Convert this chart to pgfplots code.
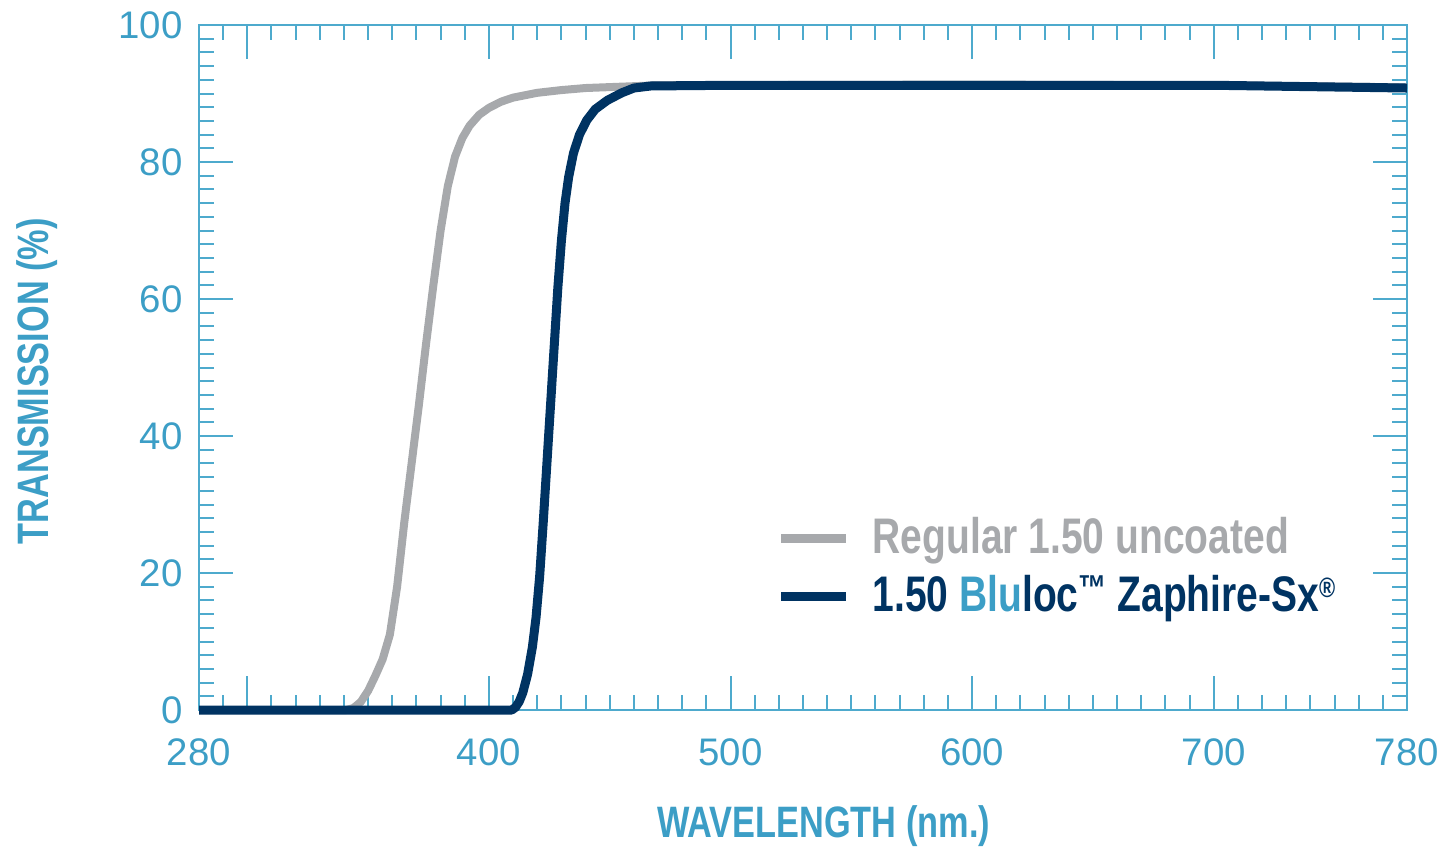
\documentclass[border=0pt]{standalone}
\usepackage{fontspec}
\setmainfont{Liberation Sans}
\newfontfamily\condfont{Liberation Sans}[FakeStretch=0.78]
\usepackage{pgfplots}
\pgfplotsset{compat=1.18}
\definecolor{axblue}{RGB}{78,170,205}
\definecolor{lblblue}{RGB}{60,158,198}
\definecolor{navy}{RGB}{0,51,98}
\definecolor{lgray}{RGB}{167,169,172}

\pgfplotstableread{
x y
280 0
341 0
344 0.3
347 1.2
350 2.8
353 5.0
356 7.4
359 11.0
362 18.0
365 27.5
368 36.0
371 44.5
374 53.5
377 62.0
380 70.0
383 76.5
386 80.8
389 83.5
392 85.3
396 86.9
400 87.9
405 88.8
410 89.4
420 90.1
430 90.5
440 90.8
455 91.0
470 91.2
600 91.3
700 91.2
780 90.9
}\regular

\pgfplotstableread{
x y
280 0
409.5 0
411 0.4
412.5 1.2
414 2.5
416 5.2
418 9.2
419.5 13.5
421 19.5
422.5 27.5
424 36
425.5 44.5
427 53
428.5 61.5
430 68.5
431.5 74
433 77.8
435 81.3
437.5 84
440.5 86.1
444 87.7
449 89.0
455 90.1
460 90.8
467 91.1
500 91.2
600 91.2
650 91.2
700 91.2
740 91.0
780 90.8
}\bluloc

\begin{document}
\begin{tikzpicture}
\path[use as bounding box] (0,0) rectangle (360.25pt,212.25pt);
\begin{axis}[
  at={(49.75pt,34.75pt)}, anchor=south west,
  scale only axis, width=302pt, height=171.25pt,
  xmin=280, xmax=780, ymin=0, ymax=100,
  clip=false,
  axis line style={axblue, line width=0.5pt},
  xtick={300,400,500,600,700}, xticklabels={},
  extra x ticks={280,400,500,600,700,780},
  extra x tick labels={280,400,500,600,700,780},
  extra x tick style={tick style={draw=none}},
  ytick={0,20,...,100},
  minor xtick={280,290,...,780},
  minor ytick={0,2,...,100},
  major tick length=8.5pt, minor tick length=3.75pt,
  tick style={axblue, line width=0.5pt},
  tick align=inside, xtick pos=both, ytick pos=both,
  xticklabel pos=lower, yticklabel pos=left,
  ticklabel style={font=\fontsize{9.6}{11}\selectfont, text=lblblue},
  /pgf/number format/assume math mode=true,
  /pgf/number format/1000 sep={},
  xticklabel style={anchor=center, yshift=-10.5pt},
  yticklabel style={anchor=east, xshift=-0.6pt},
  xlabel={WAVELENGTH (nm.)},
  ylabel={TRANSMISSION (\%)},
  xlabel style={at={(axis description cs:0.517,-0.1693)}, anchor=center, font=\condfont\bfseries\fontsize{11}{13}\selectfont, text=lblblue},
  ylabel style={at={(axis description cs:-0.1341,0.48)}, anchor=center, font=\condfont\bfseries\fontsize{11}{13}\selectfont, text=lblblue},
  legend style={at={(axis description cs:0.4776,0.208)}, anchor=west, draw=none, fill=none, inner sep=0pt,
    font=\condfont\bfseries\fontsize{12.5}{14}\selectfont, row sep=2pt,
    nodes={inner sep=1pt}},
  legend cell align=left,
  legend image code/.code={\draw[#1, line width=2.25pt] (0pt,0pt) -- (16.25pt,0pt); \path (20.75pt,0pt);},
]
\addplot[lgray, line width=2pt, line join=round] table {\regular};
\addlegendentry{\textcolor{lgray}{Regular 1.50 uncoated}}
\addplot[navy, line width=2.25pt, line join=round] table {\bluloc};
\addlegendentry{\textcolor{navy}{1.50 \textcolor{lblblue}{Blu}loc\raisebox{0.45ex}{\fontsize{9}{10}\selectfont ™} Zaphire-Sx\raisebox{0.55ex}{\fontsize{7}{8}\selectfont ®}}}
\end{axis}
\end{tikzpicture}
\end{document}
